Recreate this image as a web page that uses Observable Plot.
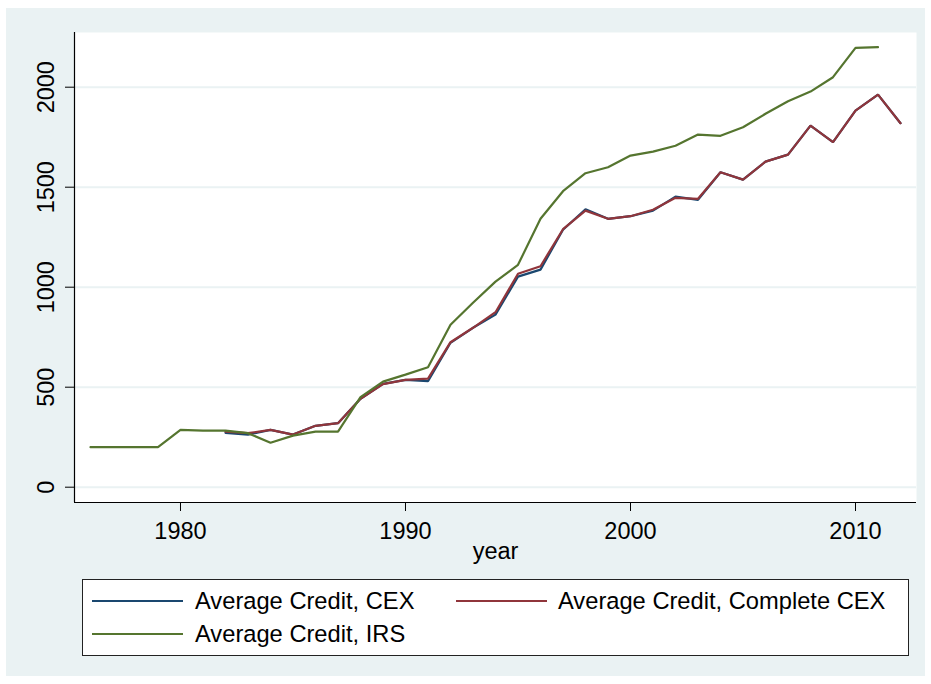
<!DOCTYPE html>
<html>
<head>
<meta charset="utf-8">
<script src="https://cdn.jsdelivr.net/npm/d3@7"></script>
<script src="https://cdn.jsdelivr.net/npm/@observablehq/plot@0.6"></script>
<style>
  html, body { margin: 0; padding: 0; background: #ffffff; }
  body { width: 931px; height: 684px; position: relative; overflow: hidden; font-family: "Liberation Sans", Arial, sans-serif; }
  #bg { position: absolute; left: 6px; top: 8px; width: 919px; height: 668px; background: #EAF2F3; }
  #chart { position: absolute; left: 0; top: 0; }
  #legend { position: absolute; left: 82px; top: 579px; width: 827px; height: 77px; box-sizing: border-box; border: 1px solid #222; background: #fff; font-size: 23.7px; color: #000; }
  .sw { position: absolute; height: 2px; width: 91px; }
  .lb { position: absolute; height: 26px; line-height: 26px; white-space: nowrap; }
</style>
</head>
<body>
<div id="bg"></div>
<div id="chart"></div>
<div id="legend"></div>
<script>
const years = [1976,1977,1978,1979,1980,1981,1982,1983,1984,1985,1986,1987,1988,1989,1990,1991,1992,1993,1994,1995,1996,1997,1998,1999,2000,2001,2002,2003,2004,2005,2006,2007,2008,2009,2010,2011,2012];
const creditCEX = [null,null,null,null,null,null,272,263,287,263,307,320,442,517,537,530,722,797,863,1053,1088,1287,1390,1342,1355,1383,1453,1437,1575,1538,1628,1663,1808,1725,1883,1963,1820];
const creditCompleteCEX = [null,null,null,null,null,null,278,270,287,263,307,320,442,515,537,543,725,797,875,1067,1105,1290,1383,1342,1355,1387,1447,1442,1575,1538,1628,1663,1808,1725,1883,1963,1820];
const creditIRS = [200,200,200,200,287,283,283,270,222,258,278,278,450,528,563,600,812,922,1028,1112,1342,1480,1570,1600,1658,1678,1707,1763,1757,1800,1867,1930,1978,2050,2197,2200,null];
const seriesNames = ["Average Credit, CEX", "Average Credit, Complete CEX", "Average Credit, IRS"];
const seriesColors = ["#1A476F", "#90353B", "#55752F"];
const xTicks = [1980, 1990, 2000, 2010];
const yTicks = [0, 500, 1000, 1500, 2000];
const xTitle = "year";

const toRows = arr => years.map((yr, i) => ({year: yr, value: arr[i]})).filter(d => d.value != null);
const seriesData = [creditCEX, creditCompleteCEX, creditIRS].map(toRows);

const xDomain = [1975.289, 2012.711];
const yDomain = [-76.5, 2273.5];

const plot = Plot.plot({
  width: 931,
  height: 565,
  marginLeft: 74,
  marginRight: 15,
  marginTop: 32,
  marginBottom: 63,
  style: {background: "transparent", fontFamily: "'Liberation Sans', Arial, sans-serif", fontSize: "23px", color: "#000", overflow: "visible"},
  x: {domain: xDomain},
  y: {domain: yDomain},
  marks: [
    Plot.frame({fill: "#ffffff", stroke: null}),
    Plot.gridY(yTicks, {stroke: "#EAF2F3", strokeOpacity: 1, strokeWidth: 2}),
    ...seriesData.map((data, i) => Plot.lineY(data, {x: "year", y: "value", stroke: seriesColors[i], strokeWidth: 2.2, strokeLinejoin: "miter"})),
    Plot.ruleX([xDomain[0]], {stroke: "#000", strokeWidth: 1.2}),
    Plot.ruleY([yDomain[0]], {stroke: "#000", strokeWidth: 1.2}),
    Plot.axisX(xTicks, {tickSize: 9, tickPadding: 11, tickFormat: d => String(d), fontSize: 23.5, label: null, stroke: "#000"}),
    Plot.axisY(yTicks, {tickSize: 9, tickPadding: 12, tickRotate: -90, textAnchor: "middle", lineAnchor: "bottom", tickFormat: d => String(d), fontSize: 23.5, label: null, stroke: "#000"}),
    Plot.text([xTitle], {frameAnchor: "bottom", dy: 56, lineAnchor: "bottom", fontSize: 23.5, fill: "#000"})
  ]
});
document.getElementById("chart").appendChild(plot);

// Legend
const legend = document.getElementById("legend");
const pos = [
  {sx: 9, tx: 112, cy: 21},
  {sx: 373, tx: 475, cy: 21},
  {sx: 9, tx: 112, cy: 54}
];
seriesNames.forEach((name, i) => {
  const p = pos[i];
  const sw = document.createElement("div");
  sw.className = "sw";
  sw.style.left = p.sx + "px";
  sw.style.top = (p.cy - 1) + "px";
  sw.style.background = seriesColors[i];
  legend.appendChild(sw);
  const lb = document.createElement("div");
  lb.className = "lb";
  lb.style.left = p.tx + "px";
  lb.style.top = (p.cy - 13) + "px";
  lb.textContent = name;
  legend.appendChild(lb);
});
</script>
</body>
</html>
